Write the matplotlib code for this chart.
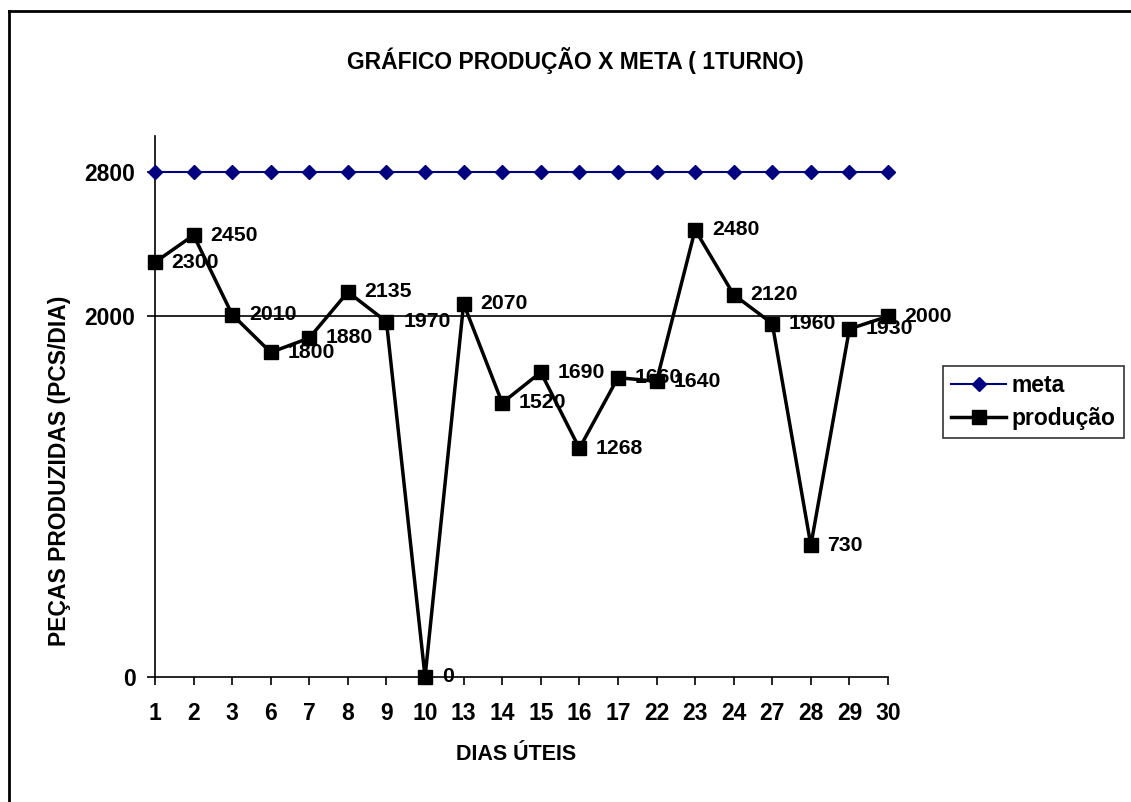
import matplotlib
matplotlib.use("Agg")
import matplotlib.pyplot as plt
from matplotlib.lines import Line2D

plt.rcParams['font.family'] = ['Liberation Sans', 'DejaVu Sans']
plt.rcParams['font.weight'] = 'bold'

# dias uteis do mes
dias = ['1', '2', '3', '6', '7', '8', '9', '10', '13', '14',
        '15', '16', '17', '22', '23', '24', '27', '28', '29', '30']
producao = [2300, 2450, 2010, 1800, 1880, 2135, 1970, 0, 2070, 1520,
            1690, 1268, 1660, 1640, 2480, 2120, 1960, 730, 1930, 2000]
meta = [2800] * len(dias)
y_ticks = [0, 2000, 2800]

W, H = 1131, 802
fig = plt.figure(figsize=(W / 100, H / 100), dpi=100)
ax = fig.add_axes([155 / W, 1 - 677 / H, (888 - 155) / W, (677 - 136) / H])

x = list(range(len(dias)))
ax.axhline(2000, color='black', linewidth=1.2, zorder=1)
ax.plot(x, meta, color='#000080', linewidth=1.5, marker='D', markersize=7.5,
        label='meta', clip_on=False, zorder=3)
ax.plot(x, producao, color='black', linewidth=2.5, marker='s', markersize=9.5,
        label='produção', clip_on=False, zorder=4)

for xi, v in zip(x, producao):
    ax.annotate(str(v), (xi, v), xytext=(12, 0), textcoords='offset points',
                ha='left', va='center', fontsize=15.3, fontweight='bold',
                annotation_clip=False, zorder=5)

ax.set_xlim(0, len(dias) - 1)
ax.set_ylim(0, 3000)
ax.set_xticks(x)
ax.set_xticklabels(dias)
ax.set_yticks(y_ticks)
ax.tick_params(axis='both', direction='out', length=6, width=1.2,
               labelsize=16.5, pad=8)
ax.tick_params(axis='x', pad=12)
for s in ['top', 'right']:
    ax.spines[s].set_visible(False)
for s in ['left', 'bottom']:
    ax.spines[s].set_linewidth(1.2)

fig.text(575 / W, 1 - 60 / H, 'GRÁFICO PRODUÇÃO X META ( 1TURNO)',
         ha='center', va='center', fontsize=16.5, fontweight='bold')
fig.text(60 / W, 1 - 471 / H, 'PEÇAS PRODUZIDAS (PCS/DIA)', rotation=90,
         ha='center', va='center', fontsize=16.5, fontweight='bold')
fig.text(516 / W, 1 - 755 / H, 'DIAS ÚTEIS',
         ha='center', va='center', fontsize=15.5, fontweight='bold')

leg = ax.legend(loc='upper left', bbox_to_anchor=(943 / W, 1 - 366 / H),
                bbox_transform=fig.transFigure, fontsize=16.5, frameon=True,
                fancybox=False, edgecolor='black', borderpad=0.35,
                handlelength=2.4, handletextpad=0.25, labelspacing=0.45,
                borderaxespad=0)
leg.get_frame().set_linewidth(1.2)

# moldura do grafico
fig.add_artist(Line2D([9 / W, 1], [1 - 11 / H, 1 - 11 / H], color='black',
                      linewidth=2, transform=fig.transFigure))
fig.add_artist(Line2D([9 / W, 9 / W], [0, 1 - 11 / H], color='black',
                      linewidth=2, transform=fig.transFigure))

fig.savefig('out.png', dpi=100)
